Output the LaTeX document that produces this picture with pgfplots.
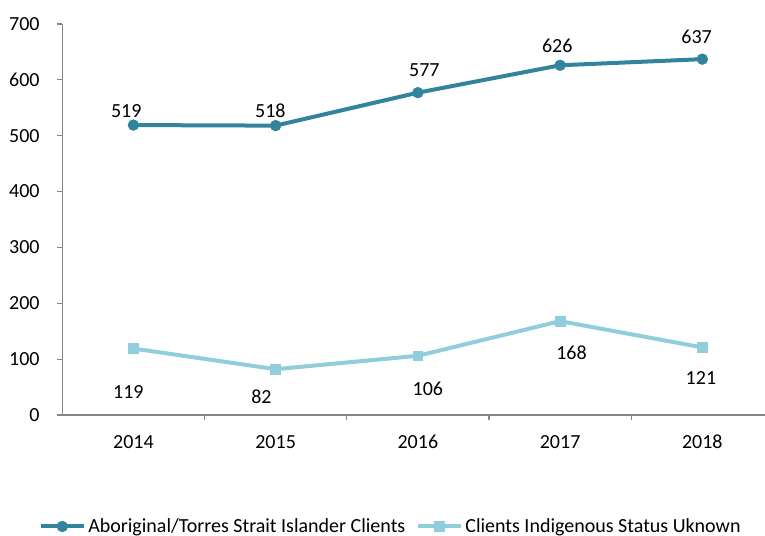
\documentclass[border=0pt]{standalone}
\usepackage{fontspec}
\setmainfont{Carlito}
\usepackage{pgfplots}
\pgfplotsset{compat=1.18}

\definecolor{tealdark}{HTML}{31849B}
\definecolor{teallight}{HTML}{92CDDC}
\definecolor{axisgray}{HTML}{868686}

% one reference pixel = 0.75pt
\begin{document}
\begin{tikzpicture}[font=\fontsize{15}{17}\selectfont]
\path[use as bounding box] (0pt,0pt) rectangle (573.75pt,-402pt);
\begin{axis}[
    at={(46.7pt,-311.25pt)}, anchor=south west,
    width=527pt, height=293.3pt, scale only axis,
    xmin=-0.5, xmax=4.44,
    ymin=0, ymax=700,
    xtick={0,1,2,3,4},
    xticklabels={2014,2015,2016,2017,2018},
    minor xtick={0.5,1.5,2.5,3.5},
    ytick={0,100,...,700},
    axis x line*=bottom, axis y line*=left,
    axis line style={axisgray, line width=0.9pt, -},
    tick align=outside,
    major tick length=4pt, minor tick length=4pt,
    major x tick style={draw=none},
    minor x tick style={axisgray, line width=0.9pt},
    major y tick style={axisgray, line width=0.9pt},
    /pgf/number format/assume math mode=true,
    yticklabel style={/pgf/number format/fixed, xshift=-9.5pt},
    xticklabel style={yshift=-7.5pt},
    clip=false,
    legend columns=2,
    legend style={draw=none, fill=none, at={(0.468,-0.285)}, anchor=center,
        /tikz/every even column/.append style={column sep=6pt},
        font=\fontsize{15}{17}\selectfont},
    legend image code/.code={%
        \draw[mark repeat=2, mark phase=2] plot coordinates {(0pt,0pt) (16pt,0pt) (32pt,0pt)};},
    legend cell align=left,
]
\addplot[tealdark, line width=3pt, mark=*, mark size=4pt,
    mark options={solid, fill=tealdark, draw=tealdark, line width=0.5pt}]
    coordinates {(0,519) (1,518) (2,577) (3,626) (4,637)};
\addlegendentry{Aboriginal/Torres Strait Islander Clients}
\addplot[teallight, line width=3pt, mark=square*, mark size=3.7pt,
    mark options={solid, fill=teallight, draw=teallight, line width=0.5pt}]
    coordinates {(0,119) (1,82) (2,106) (3,168) (4,121)};
\addlegendentry{Clients Indigenous Status Uknown}

% data labels
\node at (axis cs:-0.05,544) {519};
\node at (axis cs:0.963,544) {518};
\node at (axis cs:2.046,618) {577};
\node at (axis cs:2.98,661) {626};
\node at (axis cs:3.96,677) {637};
\node at (axis cs:-0.035,41) {119};
\node at (axis cs:0.90,32) {82};
\node at (axis cs:2.07,47) {106};
\node at (axis cs:3.08,111) {168};
\node at (axis cs:3.99,66) {121};
\end{axis}
\end{tikzpicture}
\end{document}
